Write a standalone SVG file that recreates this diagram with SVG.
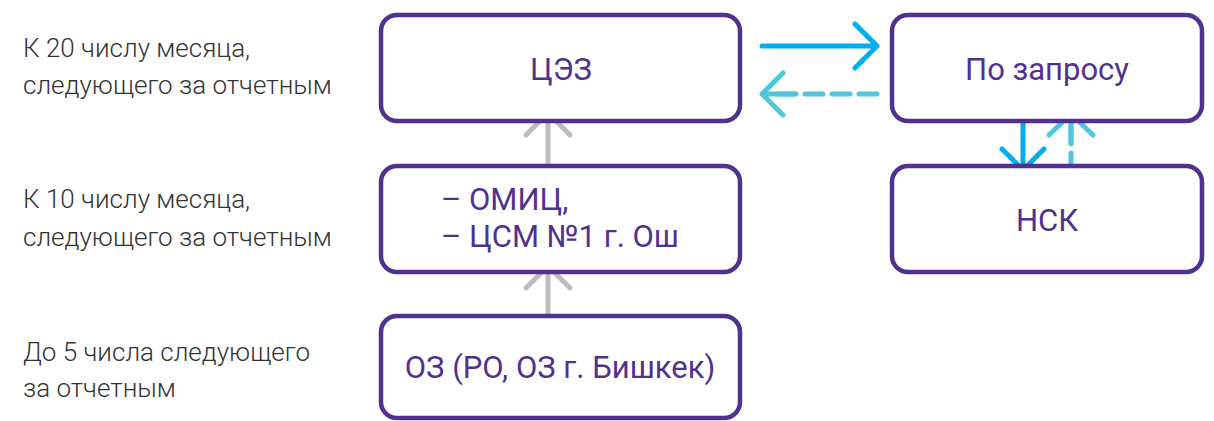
<svg xmlns="http://www.w3.org/2000/svg" width="1214" height="421" viewBox="0 0 1214 421">
<style>
.box{fill:#fff;stroke:#51318f;stroke-width:4.5}
.bt{font-family:Roboto,"Noto Sans",sans-serif;font-size:31px;fill:#51318f}
.lt{font-family:Roboto,"Noto Sans",sans-serif;font-weight:300;font-size:26px;fill:#333}
.grey{fill:none;stroke:#bdbdbd;stroke-width:5;stroke-linecap:round;stroke-linejoin:round}
.blue{fill:none;stroke:#00aeef;stroke-width:5;stroke-linecap:round;stroke-linejoin:round}
.cyan{fill:none;stroke:#4fc6de;stroke-width:5;stroke-linecap:round;stroke-linejoin:round}
.dash{stroke-dasharray:18 9}
</style>
<rect width="1214" height="421" fill="#fff"/>
<g id="labels">
<text class="lt" x="23" y="57">К 20 числу месяца,</text>
<text class="lt" x="23" y="94">следующего за отчетным</text>
<text class="lt" x="23" y="208">К 10 числу месяца,</text>
<text class="lt" x="23" y="246">следующего за отчетным</text>
<text class="lt" x="23" y="361">До 5 числа следующего</text>
<text class="lt" x="23" y="397">за отчетным</text>
</g>
<g id="connectors">
<path class="grey" d="M548 170V113M526 135L548 113L570 135"/>
<path class="grey" d="M548 322V266M526 288L548 266L570 288"/>
<path class="blue" d="M762 46H877M855 24L877 46L855 68"/>
<path class="cyan dash" d="M877 94H770"/>
<path class="cyan" d="M795 94H762M783 73L762 94L783 115"/>
<path class="blue" d="M1023 115V170M1002 149L1023 170L1044 149"/>
<path class="cyan dash" d="M1071 171V125"/>
<path class="cyan" d="M1071 142V114M1049 135L1071 114L1093 135"/>
</g>
<g id="n-cez">
<rect class="box" x="381" y="15" width="359" height="106" rx="16"/>
<text class="bt" x="561" y="80" text-anchor="middle">ЦЭЗ</text>
</g>
<g id="n-query">
<rect class="box" x="892" y="15" width="310" height="106" rx="16"/>
<text class="bt" x="1047" y="80" text-anchor="middle">По запросу</text>
</g>
<g id="n-omic">
<rect class="box" x="381" y="166" width="359" height="106" rx="16"/>
<text class="bt" x="441" y="210">– ОМИЦ,</text>
<text class="bt" x="441" y="247">– ЦСМ №1 г. Ош</text>
</g>
<g id="n-nsk">
<rect class="box" x="892" y="166" width="310" height="106" rx="16"/>
<text class="bt" x="1047" y="231" text-anchor="middle">НСК</text>
</g>
<g id="n-oz">
<rect class="box" x="381" y="316" width="359" height="102" rx="16"/>
<text class="bt" x="560" y="378" text-anchor="middle">ОЗ (РО, ОЗ г. Бишкек)</text>
</g>
</svg>
